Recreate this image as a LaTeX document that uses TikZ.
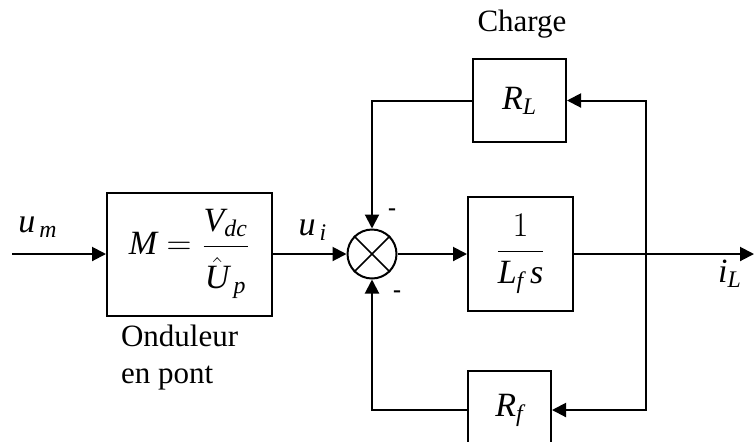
\documentclass[tikz,border=0pt]{standalone}
\usepackage{fontspec}
\setmainfont{Liberation Serif}
\usepackage{amsmath}
\usetikzlibrary{arrows.meta,positioning,calc}
\newcommand{\iv}[1]{\textit{#1}}

\begin{document}
\begin{tikzpicture}[
    x=0.5pt, y=-0.5pt,
    every node/.style={font=\fontsize{15.5}{18.5}\selectfont},
    block/.style={draw, line width=1pt, inner sep=0pt, font=\fontsize{17}{20}\selectfont},
    sumnode/.style={draw, circle, line width=1pt, minimum size=24.5pt, inner sep=0pt},
    arr/.style={draw, line width=1pt, -{Triangle[length=7pt,width=7pt]}},
    varlabel/.style={font=\fontsize{17}{20}\selectfont},
    sign/.style={font=\bfseries\fontsize{12}{12}\selectfont}
  ]
    \useasboundingbox (0,0) rectangle (754,441);
    \clip (0,0) rectangle (754,441);

    % Blocks
    \node[block, minimum width=82.5pt, minimum height=61.5pt] (M) at (189.5,254)
      {$\iv{M} = \dfrac{\iv{V}_{\iv{dc}}}{\rule{0pt}{2.4ex}\hat{\iv{U}}_{\,\iv{p}}}$};
    \node[sumnode] (sum) at (372,254) {};
    \node[block, minimum width=52.5pt, minimum height=57pt] (G) at (520.5,254)
      {$\dfrac{1}{\iv{L}_{\iv{f}}\,\iv{s}}$};
    \node[block, minimum width=46.5pt, minimum height=41.5pt] (RL) at (519.5,100.5)
      {$\iv{R}_{\iv{L}}$};
    \node[block, minimum width=41.5pt, minimum height=39pt] (Rf) at (509.5,410)
      {$\iv{R}_{\iv{f}}$};

    % Free ends
    \coordinate (in) at (12,254);
    \coordinate (out) at (754,254);
    \coordinate (br) at (646,254);

    % Cross in the summing point
    \draw[line width=0.8pt] (sum.north east) -- (sum.south west)
                            (sum.north west) -- (sum.south east);

    % Labels
    \node[varlabel] (um) at (38,227) {$\iv{u}_{\,\iv{m}}$};
    \node[varlabel] (ui) at (313,230) {$\iv{u}_{\,\iv{i}}$};
    \node[varlabel] (iL) at (730,274) {$\iv{i}_{\iv{L}}$};
    \node (charge) at (522,24) {Charge};
    \node[align=left, anchor=west] (ond) at (114,358) {Onduleur\\en pont};
    \node[sign] (m1) at (392,212) {-};
    \node[sign] (m2) at (397,294) {-};

    % Forward path
    \draw[arr] (in) -- (M);
    \draw[arr] (M) -- (sum);
    \draw[arr] (sum) -- (G);
    \draw[arr] (G) -- (out);

    % Feedback paths
    \draw[arr] (br) |- (RL);
    \draw[arr] (RL) -| (sum);
    \draw[arr] (br) |- (Rf);
    \draw[arr] (Rf) -| (sum);
  \end{tikzpicture}
\end{document}
